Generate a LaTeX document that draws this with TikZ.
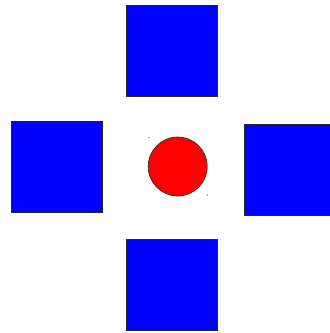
\documentclass[tikz,border=0pt]{standalone}
\usetikzlibrary{positioning}
\tikzset{
  tile/.style = {draw=black!85, fill=blue, minimum size=91pt, inner sep=0pt, line width=0.7pt},
  disc/.style = {circle, draw=black!85, fill=red, minimum size=59pt, inner sep=0pt, line width=0.6pt},
  speck/.style = {circle, fill=black!55, inner sep=0pt, minimum size=1.4pt},
}
\begin{document}
\begin{tikzpicture}[x=1pt,y=1pt]
  \useasboundingbox (0,0) rectangle (330,333);
  \clip (0,0) rectangle (330,333);
  \node[tile] (north) at (171.5,282) {};
  \node[tile] (west)  at (56.5,165.7) {};
  \node[tile] (east)  at (289.8,163.3) {};
  \node[tile] (south) at (171.5,48.3) {};
  \node[disc] (hub)   at (177.7,166.5) {};
  \node[speck] (nw) at (149,195.3) {};
  \node[speck] (se) at (207.3,138) {};
\end{tikzpicture}
\end{document}
